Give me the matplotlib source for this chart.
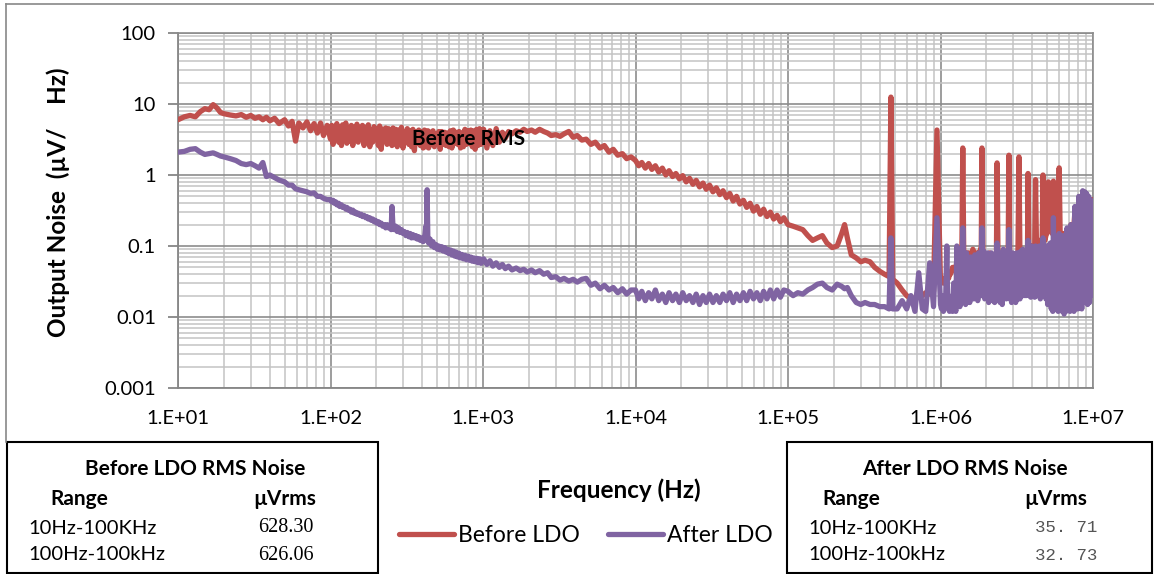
import matplotlib
matplotlib.use("Agg")
import matplotlib.pyplot as plt
from matplotlib.lines import Line2D
from matplotlib.patches import Rectangle

plt.rcParams['font.family'] = ['Lato', 'DejaVu Sans']

# ---- data (frequency in Hz, noise in uV/rtHz) ----
# 10 Hz - 100 Hz
freq_a = [10, 11, 12, 13, 14, 15, 16, 17, 18, 19, 20, 22, 24, 26, 28, 30, 32, 34,
          36, 38, 40, 43, 46, 50, 53, 56, 59, 62, 66, 70, 74, 78, 82, 86, 90, 95]
before_a = [6.0, 6.6, 6.9, 6.6, 7.8, 8.6, 8.3, 9.8, 8.8, 7.6, 7.3, 7.0, 6.8, 7.1, 6.5, 6.9, 6.3, 6.6,
            6.0, 6.5, 5.8, 6.3, 5.3, 6.0, 4.9, 5.7, 3.0, 5.4, 4.6, 5.6, 4.2, 5.3, 3.9, 5.4, 3.6, 5.0]
after_a = [2.1, 2.15, 2.3, 2.35, 2.1, 1.95, 2.0, 2.05, 1.95, 1.85, 1.8, 1.7, 1.6, 1.45, 1.4, 1.45, 1.35, 1.25,
           1.5, 0.95, 1.0, 0.92, 0.85, 0.8, 0.72, 0.72, 0.64, 0.62, 0.6, 0.58, 0.55, 0.56, 0.5, 0.5, 0.47, 0.45]

# 100 Hz - 1 kHz
freq_b = [100, 102, 104, 106, 108, 110, 113, 115, 118, 120, 123, 126, 128, 131, 134, 137, 140, 143, 146, 149,
          152, 156, 159, 162, 166, 170, 173, 177, 181, 185, 189, 193, 197, 201, 206, 210, 215, 220, 225, 230,
          235, 240, 245, 250, 253, 257, 262, 268, 274, 280, 286, 292, 299, 305, 312, 319, 326, 333, 340, 347,
          355, 363, 371, 379, 388, 396, 405, 413, 422, 426, 430, 435, 440, 450, 460, 470, 480, 491, 502, 513,
          524, 536, 548, 560, 572, 585, 598, 611, 625, 639, 653, 667, 682, 697, 712, 728, 744, 761, 778, 795,
          813, 831, 850, 869, 888, 908, 928, 949, 970, 990]
before_b = [3.2, 5.0, 2.7, 4.6, 3.3, 5.3, 2.9, 4.8, 2.6, 5.1, 3.5, 5.4, 2.8, 4.4, 3.0, 5.0, 2.6, 4.7, 3.2, 5.2,
            2.9, 4.5, 3.4, 5.0, 2.6, 4.7, 3.1, 5.1, 2.5, 4.3, 2.9, 4.8, 3.2, 4.5, 2.6, 4.9, 2.3, 4.4, 3.0, 4.6,
            2.7, 4.5, 2.9, 4.2, 2.6, 4.6, 3.0, 4.4, 2.5, 4.3, 2.8, 4.7, 2.4, 4.1, 2.9, 4.5, 2.7, 4.2, 2.5, 4.4,
            2.2, 4.0, 2.8, 4.3, 2.6, 4.1, 2.4, 4.3, 2.5, 3.9, 2.8, 4.2, 2.4, 4.0, 2.7, 4.2, 2.5, 3.8, 2.9, 4.1,
            2.3, 4.1, 2.7, 4.0, 2.6, 3.9, 2.5, 4.2, 2.4, 4.3, 2.8, 4.0, 2.7, 4.1, 2.4, 3.9, 2.5, 4.4, 2.7, 4.2,
            2.8, 4.3, 2.5, 4.2, 2.3, 4.4, 2.6, 4.5, 2.7, 4.0]
after_b = [0.45, 0.42, 0.44, 0.40, 0.42, 0.38, 0.40, 0.36, 0.38, 0.35, 0.36, 0.33, 0.35, 0.32, 0.33, 0.30, 0.32, 0.29,
           0.30, 0.28,
           0.29, 0.27, 0.28, 0.26, 0.27, 0.25, 0.26, 0.24, 0.25, 0.23, 0.24, 0.22, 0.23, 0.21, 0.22, 0.20, 0.21, 0.19,
           0.20, 0.18,
           0.20, 0.18, 0.19, 0.17, 0.36, 0.18, 0.17, 0.19, 0.16, 0.18, 0.155, 0.17, 0.15, 0.16, 0.14, 0.155, 0.135,
           0.15, 0.13, 0.145,
           0.13, 0.14, 0.125, 0.135, 0.12, 0.13, 0.115, 0.125, 0.19, 0.13, 0.62, 0.12, 0.11, 0.125, 0.1, 0.115, 0.095,
           0.105, 0.09, 0.1,
           0.088, 0.098, 0.085, 0.095, 0.082, 0.09, 0.078, 0.088, 0.075, 0.085, 0.072, 0.082, 0.07, 0.079, 0.068,
           0.076, 0.066, 0.074, 0.064, 0.072,
           0.063, 0.07, 0.061, 0.068, 0.06, 0.067, 0.058, 0.066, 0.057, 0.064]

# 1 kHz - 10 kHz
freq_c = [1010, 1060, 1110, 1160, 1220, 1280, 1340, 1400, 1470, 1550, 1650, 1750, 1850, 1950, 2080, 2200,
          2350, 2500, 2650, 2800, 3000, 3200, 3400, 3650, 3900, 4150, 4450, 4750, 5100, 5450, 5850, 6250,
          6700, 7150, 7650, 8200, 8750, 9350]
before_c = [4.4, 2.4, 4.2, 2.6, 4.5, 2.9, 4.0, 3.3, 4.1, 3.8, 4.2, 4.0, 4.4, 4.1, 4.3, 4.0,
            4.4, 4.1, 3.9, 3.6, 3.7, 3.5, 3.8, 4.1, 3.4, 3.6, 3.1, 3.2, 2.7, 2.9, 2.4, 2.6,
            2.1, 2.3, 1.9, 2.0, 1.7, 1.8]
after_c = [0.066, 0.055, 0.062, 0.052, 0.058, 0.05, 0.055, 0.048, 0.052, 0.046, 0.049, 0.045, 0.047, 0.043,
           0.046, 0.042, 0.045, 0.04, 0.042, 0.036, 0.037, 0.033, 0.035, 0.032, 0.034, 0.031, 0.034, 0.035,
           0.028, 0.03, 0.025, 0.028, 0.024, 0.026, 0.022, 0.025, 0.021, 0.024]

# 10 kHz - 100 kHz
freq_d = [10000, 10500, 11000, 11600, 12200, 12800, 13500, 14200, 15000, 15800, 16600, 17500, 18400,
          19400, 20400, 21500, 22600, 23800, 25000, 26300, 27700, 29100, 30600, 32200, 33900, 35700,
          37500, 39500, 41500, 43700, 46000, 48400, 51000, 53600, 56400, 59400, 62500, 65800, 69200,
          72800, 76600, 80600, 84800, 89200, 93900]
before_d = [1.6, 1.35, 1.5, 1.25, 1.45, 1.2, 1.35, 1.1, 1.25, 1.0, 1.15, 0.95, 1.05, 0.88, 0.98, 0.8,
            0.9, 0.74, 0.84, 0.68, 0.77, 0.63, 0.72, 0.58, 0.66, 0.53, 0.6, 0.48, 0.55, 0.43, 0.5, 0.39,
            0.44, 0.35, 0.4, 0.31, 0.36, 0.28, 0.33, 0.26, 0.3, 0.24, 0.27, 0.22, 0.25]
after_d = [0.024, 0.018, 0.023, 0.017, 0.022, 0.018, 0.024, 0.017, 0.021, 0.016, 0.022, 0.017, 0.021,
           0.016, 0.022, 0.017, 0.02, 0.016, 0.021, 0.015, 0.02, 0.016, 0.021, 0.016, 0.02, 0.016,
           0.021, 0.017, 0.022, 0.016, 0.021, 0.017, 0.022, 0.017, 0.023, 0.018, 0.022, 0.017, 0.023,
           0.018, 0.024, 0.018, 0.024, 0.019, 0.024]

# 100 kHz - 1 MHz
freq_e = [100000, 108000, 116000, 125000, 135000, 145000, 156000, 168000, 180000, 195000, 210000,
          225000, 235000, 245000, 260000, 280000, 300000, 320000, 345000, 370000, 400000, 430000,
          460000, 473000, 486000, 520000, 560000, 600000, 640000, 680000, 720000, 760000, 800000,
          850000, 900000, 948000]
before_e = [0.2, 0.19, 0.18, 0.17, 0.14, 0.12, 0.13, 0.14, 0.11, 0.095, 0.1, 0.15, 0.2, 0.13, 0.075,
            0.068, 0.06, 0.063, 0.06, 0.05, 0.044, 0.04, 0.037, 12.5, 0.034, 0.03, 0.024, 0.02, 0.018,
            0.018, 0.024, 0.02, 0.022, 0.021, 0.023, 4.3]
after_e = [0.023, 0.02, 0.022, 0.021, 0.024, 0.026, 0.029, 0.03, 0.026, 0.024, 0.029, 0.027, 0.025,
           0.026, 0.02, 0.016, 0.015, 0.016, 0.015, 0.015, 0.014, 0.014, 0.013, 0.13, 0.013, 0.013,
           0.017, 0.013, 0.02, 0.012, 0.042, 0.013, 0.012, 0.058, 0.014, 0.25]

# 1 MHz - 10 MHz (frequency in MHz)
freq_f_mhz = [1.0, 1.015, 1.03, 1.045, 1.06, 1.08, 1.1, 1.115, 1.13, 1.145,
              1.16, 1.18, 1.2, 1.22, 1.24, 1.26, 1.28, 1.3, 1.32, 1.34,
              1.36, 1.38, 1.4, 1.42, 1.44, 1.46, 1.48, 1.505, 1.53, 1.555,
              1.58, 1.605, 1.63, 1.655, 1.68, 1.705, 1.73, 1.755, 1.78, 1.805,
              1.83, 1.85, 1.87, 1.895, 1.92, 1.95, 1.98, 2.01, 2.04, 2.07,
              2.1, 2.13, 2.16, 2.195, 2.23, 2.265, 2.3, 2.325, 2.35, 2.385,
              2.42, 2.46, 2.5, 2.54, 2.58, 2.62, 2.66, 2.7, 2.74, 2.775,
              2.81, 2.845, 2.88, 2.925, 2.97, 3.015, 3.06, 3.11, 3.16, 3.215,
              3.27, 3.32, 3.37, 3.42, 3.47, 3.525, 3.58, 3.635, 3.69, 3.72,
              3.75, 3.8, 3.85, 3.91, 3.97, 4.03, 4.09, 4.145, 4.2, 4.26,
              4.32, 4.385, 4.45, 4.515, 4.58, 4.64, 4.7, 4.77, 4.84, 4.91,
              4.98, 5.04, 5.1, 5.175, 5.25, 5.325, 5.4, 5.45, 5.5, 5.575,
              5.65, 5.735, 5.82, 5.91, 6.0, 6.09, 6.18, 6.275, 6.37, 6.465,
              6.56, 6.66, 6.76, 6.86, 6.96, 7.065, 7.17, 7.28, 7.39, 7.5,
              7.61, 7.725, 7.84, 7.955, 8.07, 8.19, 8.31, 8.435, 8.56, 8.69,
              8.82, 8.95, 9.08, 9.215, 9.35, 9.49, 9.63, 9.765, 9.9, 10.0]
before_f = [0.03, 0.032, 0.035, 0.03, 0.03, 0.035, 0.04, 0.036, 0.035, 0.04,
            0.04, 0.045, 0.05, 0.045, 0.045, 0.05, 0.06, 0.055, 0.05, 0.06,
            0.07, 0.075, 2.4, 0.08, 0.08, 0.075, 0.07, 0.08, 0.08, 0.07,
            0.06, 0.075, 0.09, 0.08, 0.07, 0.075, 0.08, 0.075, 0.07, 0.08,
            0.09, 0.085, 2.4, 0.085, 0.08, 0.075, 0.07, 0.065, 0.06, 0.07,
            0.08, 0.07, 0.06, 0.065, 0.07, 0.065, 0.06, 0.06, 1.48, 0.06,
            0.06, 0.055, 0.05, 0.055, 0.06, 0.055, 0.05, 0.06, 0.07, 0.065,
            1.9, 0.065, 0.06, 0.055, 0.05, 0.055, 0.06, 0.055, 0.05, 0.06,
            1.8, 0.06, 0.05, 0.055, 0.06, 0.055, 0.05, 0.065, 0.08, 0.09,
            1.05, 0.08, 0.07, 0.085, 0.1, 0.09, 0.08, 0.09, 0.86, 0.1,
            0.1, 0.11, 0.12, 0.1, 0.09, 0.12, 1.0, 0.13, 0.12, 0.14,
            0.15, 0.18, 0.8, 0.2, 0.2, 0.18, 0.15, 0.16, 0.82, 0.2,
            0.2, 0.15, 0.12, 0.2, 1.26, 0.15, 0.12, 0.14, 0.15, 0.12,
            0.1, 0.12, 0.14, 0.12, 0.1, 0.15, 0.2, 0.15, 0.1, 0.2,
            0.3, 0.2, 0.12, 0.25, 0.35, 0.2, 0.15, 0.3, 0.45, 0.3,
            0.2, 0.35, 0.5, 0.3, 0.25, 0.35, 0.45, 0.4, 0.4, 0.45]
after_f = [0.015, 0.013, 0.02, 0.012, 0.013, 0.016, 0.1, 0.014, 0.02, 0.012,
           0.018, 0.013, 0.012, 0.03, 0.016, 0.012, 0.1, 0.015, 0.04, 0.014,
           0.05, 0.016, 0.18, 0.02, 0.07, 0.015, 0.08, 0.02, 0.06, 0.016,
           0.07, 0.02, 0.065, 0.018, 0.075, 0.02, 0.06, 0.017, 0.08, 0.02,
           0.07, 0.02, 0.18, 0.022, 0.085, 0.018, 0.07, 0.02, 0.08, 0.016,
           0.07, 0.02, 0.08, 0.017, 0.075, 0.016, 0.07, 0.02, 0.11, 0.018,
           0.08, 0.016, 0.075, 0.015, 0.09, 0.02, 0.08, 0.018, 0.085, 0.02,
           0.17, 0.018, 0.075, 0.016, 0.08, 0.018, 0.07, 0.016, 0.08, 0.018,
           0.08, 0.018, 0.085, 0.02, 0.09, 0.02, 0.085, 0.02, 0.09, 0.022,
           0.12, 0.02, 0.09, 0.019, 0.1, 0.02, 0.09, 0.019, 0.1, 0.02,
           0.095, 0.02, 0.1, 0.018, 0.1, 0.02, 0.13, 0.02, 0.1, 0.018,
           0.1, 0.015, 0.09, 0.015, 0.11, 0.013, 0.1, 0.012, 0.25, 0.015,
           0.09, 0.013, 0.1, 0.012, 0.15, 0.013, 0.1, 0.012, 0.14, 0.011,
           0.12, 0.012, 0.18, 0.013, 0.16, 0.012, 0.2, 0.013, 0.18, 0.012,
           0.36, 0.014, 0.3, 0.013, 0.5, 0.015, 0.45, 0.013, 0.6, 0.02,
           0.58, 0.016, 0.55, 0.015, 0.5, 0.016, 0.45, 0.02, 0.3, 0.35]

freq = freq_a + freq_b + freq_c + freq_d + freq_e + [f * 1e6 for f in freq_f_mhz]
before = before_a + before_b + before_c + before_d + before_e + before_f
after = after_a + after_b + after_c + after_d + after_e + after_f
assert len(freq) == len(before) == len(after), (len(freq), len(before), len(after))

x_ticks = [1e1, 1e2, 1e3, 1e4, 1e5, 1e6, 1e7]
x_tick_labels = ['1.E+01', '1.E+02', '1.E+03', '1.E+04', '1.E+05', '1.E+06', '1.E+07']
y_ticks = [0.001, 0.01, 0.1, 1, 10, 100]
y_tick_labels = ['0.001', '0.01', '0.1', '1', '10', '100']

# RMS tables
table_titles = ['Before LDO RMS Noise', 'After LDO RMS Noise']
ranges = ['10Hz-100KHz', '100Hz-100kHz']
before_rms = ['628.30', '626.06']
after_rms = ['35. 71', '32. 73']

# ---- figure ----
W, H = 1154, 574
fig = plt.figure(figsize=(W / 100, H / 100), dpi=100)
fig.patch.set_facecolor('white')

def fx(px):
    return px / W

def fy(py):
    return 1 - py / H

red = '#C0504D'
purple = '#8064A2'
axis_gray = '#868686'

ax = fig.add_axes([fx(178), fy(388), (1093 - 178) / W, (388 - 33) / H])
ax.set_xscale('log')
ax.set_yscale('log')
line_b, = ax.plot(freq, before, color=red, lw=3.8, solid_joinstyle='round',
                  solid_capstyle='round', label='Before LDO', zorder=3)
line_a, = ax.plot(freq, after, color=purple, lw=3.8, solid_joinstyle='round',
                  solid_capstyle='round', label='After LDO', zorder=4)
ax.set_xlim(10, 1e7)
ax.set_ylim(0.001, 100)

ax.set_axisbelow(True)
ax.grid(True, which='major', color='#8c8c8c', lw=1.2)
ax.grid(True, which='minor', color='#c3c3c3', lw=1.1)
for s in ['top', 'right']:
    ax.spines[s].set_color('#8c8c8c')
    ax.spines[s].set_linewidth(1.2)
for s in ['left', 'bottom']:
    ax.spines[s].set_color(axis_gray)
    ax.spines[s].set_linewidth(1.3)

ax.set_xticks(x_ticks)
ax.set_xticklabels(x_tick_labels)
ax.set_yticks(y_ticks)
ax.set_yticklabels(y_tick_labels)
ax.tick_params(which='minor', length=0)
ax.tick_params(axis='x', which='major', length=0, pad=16, labelsize=14.5)
ax.tick_params(axis='y', which='major', length=7, width=1.3, color=axis_gray,
               pad=9, labelsize=14.5)

ax.set_ylabel('Output Noise  (µV/    Hz)', fontsize=17.5, fontweight='bold')
ax.yaxis.set_label_coords(-0.118, 0.524)

ax.text(800, 3.2, 'Before RMS', fontsize=15, fontweight='bold',
        ha='center', va='center', zorder=5)

fig.text(fx(619), fy(490), 'Frequency (Hz)', fontsize=17.5, fontweight='bold',
         ha='center', va='center')

fig.legend(handles=[line_b, line_a], loc='center', bbox_to_anchor=(fx(586), fy(536)),
           ncol=2, frameon=False, fontsize=16.5, handlelength=2.4, handletextpad=0.2,
           columnspacing=1.2, borderpad=0)

# outer chart frame (top and left edges)
fig.add_artist(Line2D([fx(6), fx(1154)], [fy(4), fy(4)], color='#888888', lw=1.2))
fig.add_artist(Line2D([fx(6), fx(6)], [fy(4), fy(442)], color='#888888', lw=1.2))

# RMS tables
boxes = [(7, 378), (787, 1152)]
title_x = [195, 965]
range_x = [79, 851]
unit_x = [285, 1056]
row_x = [28, 808]
val_x = [286, 1066]
values = [before_rms, after_rms]
for i in range(2):
    x0, x1 = boxes[i]
    fig.add_artist(Rectangle((fx(x0), fy(573)), fx(x1) - fx(x0), fy(442) - fy(573),
                             transform=fig.transFigure, fill=False, ec='black', lw=1.5))
    fig.text(fx(title_x[i]), fy(469), table_titles[i], fontsize=15, fontweight='bold',
             ha='center', va='center')
    fig.text(fx(range_x[i]), fy(499), 'Range', fontsize=15, fontweight='bold',
             ha='center', va='center')
    fig.text(fx(unit_x[i]), fy(499), 'µVrms', fontsize=15, fontweight='bold',
             ha='center', va='center')
    for j, yy in enumerate([528, 555]):
        fig.text(fx(row_x[i]), fy(yy), ranges[j], fontsize=14.5, ha='left', va='center')
        if i == 0:
            fig.text(fx(val_x[i]), fy(yy), values[i][j], fontsize=14.5,
                     family='Liberation Serif', ha='center', va='center')
        else:
            fig.text(fx(val_x[i]), fy(yy), values[i][j], fontsize=12.5,
                     family='Liberation Mono', color='#555555', ha='center', va='center')

fig.savefig('out.png', dpi=100)
